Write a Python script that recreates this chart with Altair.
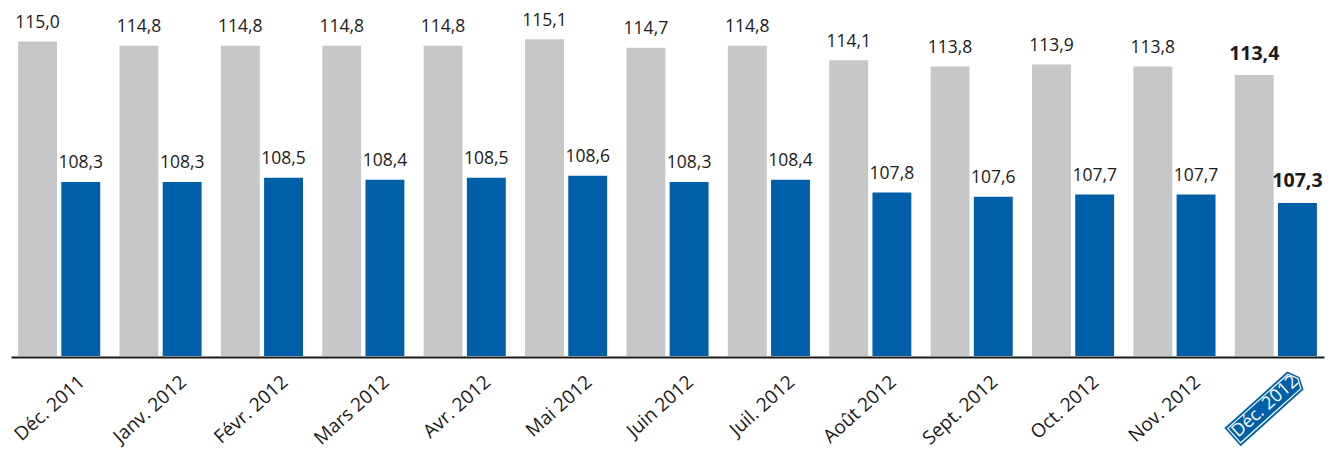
import altair as alt
import pandas as pd

months = ["Déc. 2011", "Janv. 2012", "Févr. 2012", "Mars 2012", "Avr. 2012", "Mai 2012",
          "Juin 2012", "Juil. 2012", "Août 2012", "Sept. 2012", "Oct. 2012", "Nov. 2012", "Déc. 2012"]
grey_values = [115.0, 114.8, 114.8, 114.8, 114.8, 115.1, 114.7, 114.8, 114.1, 113.8, 113.9, 113.8, 113.4]
blue_values = [108.3, 108.3, 108.5, 108.4, 108.5, 108.6, 108.3, 108.4, 107.8, 107.6, 107.7, 107.7, 107.3]
series = ["grey", "blue"]
highlight = "Déc. 2012"

GREY = "#c6c7c9"
BLUE = "#005fa9"
FONT = "Open Sans"

rows = []
for i, m in enumerate(months):
    rows.append({"month": m, "series": "grey", "value": grey_values[i], "bold": m == highlight})
    rows.append({"month": m, "series": "blue", "value": blue_values[i], "bold": m == highlight})
df = pd.DataFrame(rows)

is_hl = f"datum.value == '{highlight}'"
x_enc = alt.X(
    "month:N", sort=months,
    scale=alt.Scale(paddingInner=0.19, paddingOuter=0.07),
    axis=alt.Axis(
        title=None, labelAngle=-42, ticks=False, domainColor="#1a1a1a", domainWidth=2, offset=1,
        labelFont=FONT,
        labelFontSize={"condition": {"test": is_hl, "value": 18}, "value": 19},
        labelAlign="right", labelBaseline="top",
        labelColor={"condition": {"test": is_hl, "value": "white"}, "value": "#1a1a1a"},
        labelOffset={"condition": {"test": is_hl, "value": 14}, "value": 17},
        labelPadding=15, zindex=1,
    ),
)
xoff = alt.XOffset("series:N", sort=series, scale=alt.Scale(paddingInner=0.1, paddingOuter=0))
y_enc = alt.Y("value:Q", scale=alt.Scale(domain=[100, 116.5], zero=False, nice=False), axis=None)

base = alt.Chart(df).encode(x=x_enc, xOffset=xoff, y=y_enc)

bars = base.mark_bar().encode(
    y2=alt.datum(100),
    color=alt.Color("series:N", sort=series, scale=alt.Scale(domain=series, range=[GREY, BLUE]), legend=None),
)

labels = base.transform_filter("!datum.bold").transform_calculate(
    lbl="replace(format(datum.value, '.1f'), '.', ',')"
).mark_text(font=FONT, fontSize=17.5, dy=-13.5, baseline="alphabetic", color="#1a1a1a").encode(text="lbl:N")

labels_bold = base.transform_filter("datum.bold").transform_calculate(
    lbl="replace(format(datum.value, '.1f'), '.', ',')"
).mark_text(font=FONT, fontSize=19.5, fontWeight="bold", dy=-15.5, baseline="alphabetic", color="#1a1a1a").encode(text="lbl:N")

outer_path = "M-1,-0.27 L0.88,-0.27 L1,0 L0.88,0.27 L-1,0.27 Z"
inner_path = "M-0.95,-0.215 L0.85,-0.215 L0.95,0 L0.85,0.215 L-0.95,0.215 Z"
tag_df = pd.DataFrame({"month": [highlight]})
tag_x = alt.X("month:N", sort=months, bandPosition=0.38)
tag_outer = alt.Chart(tag_df).mark_point(
    shape=outer_path, size=8100, angle=318, filled=True, fill=BLUE, opacity=1, strokeWidth=0
).encode(x=tag_x, y=alt.value(397))
tag_inner = alt.Chart(tag_df).mark_point(
    shape=inner_path, size=8100, angle=318, filled=False, stroke="white", strokeWidth=1.2, opacity=1
).encode(x=tag_x, y=alt.value(397))

chart = alt.layer(bars, labels, labels_bold, tag_outer, tag_inner).properties(
    width=1313, height=346,
    autosize=alt.AutoSizeParams(type="none"),
    padding={"left": 3, "top": 2, "right": 6, "bottom": 94},
).configure_view(stroke=None)

chart.save("out.html", embed_options={"renderer": "svg", "actions": False})
